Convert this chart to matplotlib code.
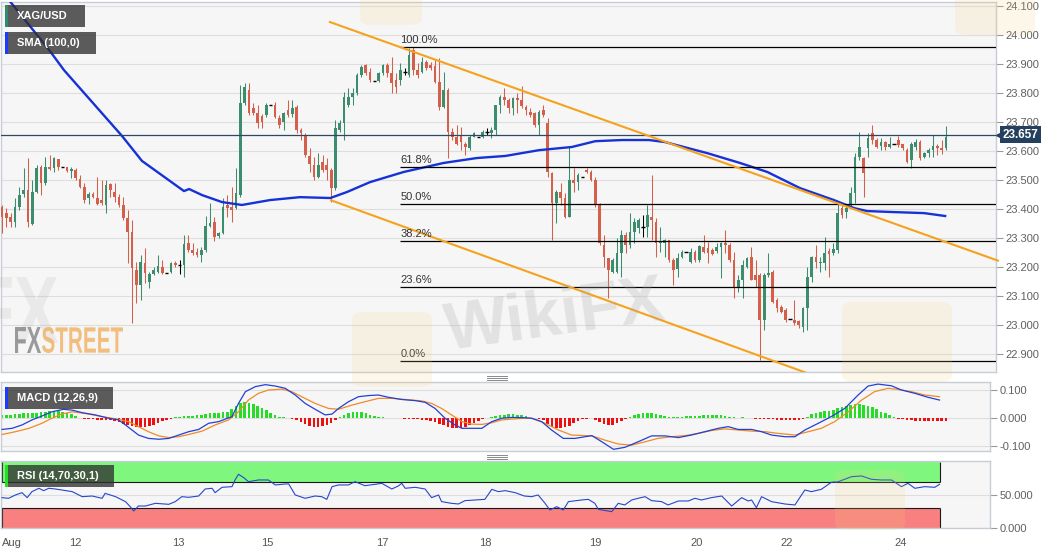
import numpy as np
import matplotlib
matplotlib.use('Agg')
import matplotlib.pyplot as plt
from matplotlib.patches import Rectangle, PathPatch, FancyBboxPatch
from matplotlib.lines import Line2D
from matplotlib.textpath import TextPath
from matplotlib.font_manager import FontProperties
from matplotlib.transforms import Affine2D, blended_transform_factory

plt.rcParams['font.family'] = ['Liberation Sans', 'DejaVu Sans']

# ---------------- data (hourly XAG/USD candles) ----------------
opens = [
    23.408, 23.385, 23.374, 23.356, 23.408, 23.452, 23.466, 23.348, 23.460, 23.544,
    23.489, 23.546, 23.540, 23.571, 23.546, 23.544, 23.532, 23.534, 23.502, 23.477,
    23.437, 23.452, 23.437, 23.431, 23.414, 23.486, 23.460, 23.443, 23.414, 23.368,
    23.322, 23.190, 23.138, 23.215, 23.149, 23.176, 23.184, 23.201, 23.178, 23.184,
    23.215, 23.207, 23.207, 23.284, 23.259, 23.253, 23.241, 23.259, 23.341, 23.356,
    23.308, 23.316, 23.414, 23.408, 23.402, 23.448, 23.764, 23.810, 23.747, 23.730,
    23.721, 23.724, 23.759, 23.759, 23.713, 23.701, 23.741, 23.728, 23.753, 23.672,
    23.655, 23.583, 23.552, 23.512, 23.563, 23.552, 23.535, 23.471, 23.672, 23.695,
    23.759, 23.787, 23.799, 23.862, 23.897, 23.874, 23.841, 23.843, 23.868, 23.897,
    23.868, 23.845, 23.845, 23.874, 23.862, 23.948, 23.879, 23.874, 23.908, 23.897,
    23.893, 23.839, 23.753, 23.810, 23.667, 23.649, 23.655, 23.626, 23.609, 23.649,
    23.649, 23.649, 23.667, 23.661, 23.672, 23.759, 23.787, 23.776, 23.747, 23.782,
    23.776, 23.753, 23.736, 23.730, 23.690, 23.741, 23.695, 23.523, 23.420, 23.460,
    23.437, 23.374, 23.500, 23.494, 23.511, 23.534, 23.529, 23.500, 23.414, 23.276,
    23.230, 23.184, 23.184, 23.247, 23.310, 23.276, 23.322, 23.333, 23.339, 23.339,
    23.374, 23.356, 23.282, 23.282, 23.293, 23.224, 23.192, 23.233, 23.253, 23.218,
    23.253, 23.224, 23.270, 23.264, 23.259, 23.256, 23.270, 23.284, 23.276, 23.224,
    23.132, 23.155, 23.201, 23.236, 23.172, 23.172, 23.017, 23.172, 23.184, 23.086,
    23.063, 23.052, 23.020, 23.017, 23.014, 22.994, 23.057, 23.167, 23.233, 23.213,
    23.215, 23.256, 23.247, 23.259, 23.402, 23.391, 23.414, 23.454, 23.580, 23.575,
    23.609, 23.661, 23.638, 23.617, 23.632, 23.615, 23.624, 23.638, 23.624, 23.603,
    23.569, 23.615, 23.632, 23.580, 23.592, 23.603, 23.617, 23.612, 23.609]
highs = [
    23.414, 23.402, 23.385, 23.437, 23.477, 23.540, 23.575, 23.500, 23.552, 23.552,
    23.578, 23.586, 23.580, 23.571, 23.546, 23.546, 23.546, 23.540, 23.517, 23.489,
    23.460, 23.460, 23.509, 23.500, 23.500, 23.491, 23.489, 23.452, 23.443, 23.397,
    23.362, 23.218, 23.241, 23.264, 23.184, 23.201, 23.241, 23.224, 23.178, 23.218,
    23.222, 23.224, 23.310, 23.310, 23.282, 23.264, 23.270, 23.376, 23.420, 23.374,
    23.322, 23.437, 23.448, 23.477, 23.540, 23.828, 23.836, 23.833, 23.764, 23.759,
    23.728, 23.764, 23.759, 23.770, 23.724, 23.736, 23.776, 23.776, 23.759, 23.678,
    23.661, 23.609, 23.580, 23.592, 23.586, 23.575, 23.540, 23.707, 23.707, 23.805,
    23.816, 23.816, 23.868, 23.897, 23.900, 23.885, 23.841, 23.874, 23.900, 23.902,
    23.925, 23.868, 23.902, 23.885, 23.954, 23.960, 23.902, 23.925, 23.914, 23.908,
    23.914, 23.920, 23.874, 23.816, 23.678, 23.690, 23.684, 23.632, 23.655, 23.667,
    23.649, 23.672, 23.678, 23.684, 23.759, 23.793, 23.816, 23.782, 23.787, 23.799,
    23.824, 23.759, 23.747, 23.736, 23.741, 23.759, 23.713, 23.529, 23.466, 23.489,
    23.454, 23.615, 23.540, 23.523, 23.511, 23.540, 23.534, 23.511, 23.420, 23.310,
    23.230, 23.230, 23.299, 23.328, 23.322, 23.385, 23.368, 23.368, 23.379, 23.414,
    23.517, 23.368, 23.339, 23.295, 23.293, 23.230, 23.247, 23.259, 23.253, 23.264,
    23.259, 23.276, 23.310, 23.287, 23.264, 23.282, 23.287, 23.327, 23.282, 23.253,
    23.172, 23.224, 23.236, 23.270, 23.224, 23.178, 23.178, 23.247, 23.190, 23.092,
    23.069, 23.057, 23.020, 23.086, 23.017, 23.063, 23.201, 23.238, 23.276, 23.236,
    23.305, 23.264, 23.282, 23.420, 23.414, 23.414, 23.477, 23.592, 23.667, 23.580,
    23.661, 23.690, 23.644, 23.644, 23.636, 23.649, 23.624, 23.652, 23.626, 23.609,
    23.632, 23.640, 23.638, 23.598, 23.609, 23.655, 23.626, 23.638, 23.686]
lows = [
    23.316, 23.339, 23.339, 23.339, 23.397, 23.443, 23.339, 23.345, 23.454, 23.448,
    23.483, 23.534, 23.529, 23.534, 23.546, 23.529, 23.506, 23.500, 23.471, 23.420,
    23.417, 23.437, 23.414, 23.414, 23.385, 23.443, 23.425, 23.408, 23.362, 23.213,
    23.006, 23.075, 23.086, 23.144, 23.126, 23.172, 23.178, 23.176, 23.178, 23.178,
    23.201, 23.176, 23.167, 23.253, 23.241, 23.236, 23.218, 23.253, 23.339, 23.291,
    23.299, 23.313, 23.374, 23.356, 23.399, 23.443, 23.759, 23.724, 23.724, 23.678,
    23.678, 23.718, 23.759, 23.713, 23.678, 23.672, 23.718, 23.718, 23.663, 23.638,
    23.580, 23.529, 23.500, 23.506, 23.529, 23.500, 23.425, 23.466, 23.667, 23.638,
    23.753, 23.759, 23.793, 23.856, 23.862, 23.839, 23.841, 23.839, 23.862, 23.856,
    23.799, 23.799, 23.828, 23.862, 23.856, 23.862, 23.851, 23.868, 23.879, 23.879,
    23.833, 23.741, 23.747, 23.575, 23.638, 23.621, 23.603, 23.586, 23.603, 23.647,
    23.649, 23.644, 23.655, 23.644, 23.655, 23.730, 23.759, 23.730, 23.724, 23.730,
    23.747, 23.724, 23.718, 23.684, 23.655, 23.718, 23.511, 23.293, 23.351, 23.414,
    23.368, 23.371, 23.460, 23.466, 23.511, 23.523, 23.498, 23.408, 23.276, 23.201,
    23.092, 23.178, 23.178, 23.167, 23.247, 23.264, 23.282, 23.316, 23.305, 23.305,
    23.293, 23.236, 23.253, 23.236, 23.218, 23.138, 23.167, 23.230, 23.253, 23.213,
    23.218, 23.218, 23.247, 23.213, 23.241, 23.247, 23.161, 23.247, 23.218, 23.092,
    23.115, 23.092, 23.195, 23.155, 23.132, 22.879, 22.983, 23.167, 23.075, 23.046,
    23.040, 23.012, 23.020, 23.000, 22.989, 22.977, 22.983, 23.149, 23.195, 23.184,
    23.190, 23.167, 23.241, 23.247, 23.368, 23.368, 23.408, 23.420, 23.569, 23.443,
    23.580, 23.626, 23.609, 23.603, 23.603, 23.609, 23.624, 23.615, 23.603, 23.560,
    23.540, 23.603, 23.569, 23.575, 23.580, 23.580, 23.586, 23.590, 23.603]
closes = [
    23.374, 23.368, 23.356, 23.408, 23.448, 23.466, 23.356, 23.460, 23.540, 23.489,
    23.544, 23.537, 23.575, 23.546, 23.546, 23.532, 23.537, 23.506, 23.477, 23.431,
    23.452, 23.440, 23.417, 23.420, 23.483, 23.466, 23.443, 23.414, 23.368, 23.322,
    23.195, 23.138, 23.218, 23.178, 23.176, 23.190, 23.203, 23.178, 23.178, 23.215,
    23.207, 23.207, 23.279, 23.259, 23.247, 23.241, 23.259, 23.341, 23.353, 23.305,
    23.316, 23.408, 23.402, 23.397, 23.454, 23.764, 23.822, 23.730, 23.730, 23.698,
    23.701, 23.759, 23.759, 23.718, 23.690, 23.730, 23.724, 23.747, 23.672, 23.661,
    23.586, 23.557, 23.512, 23.552, 23.535, 23.535, 23.471, 23.678, 23.695, 23.787,
    23.787, 23.799, 23.862, 23.891, 23.868, 23.845, 23.841, 23.870, 23.897, 23.868,
    23.833, 23.822, 23.879, 23.874, 23.931, 23.879, 23.862, 23.908, 23.885, 23.885,
    23.839, 23.753, 23.810, 23.667, 23.649, 23.626, 23.632, 23.615, 23.649, 23.661,
    23.649, 23.667, 23.667, 23.672, 23.759, 23.787, 23.776, 23.747, 23.782, 23.776,
    23.755, 23.741, 23.724, 23.690, 23.736, 23.724, 23.529, 23.420, 23.460, 23.437,
    23.374, 23.500, 23.489, 23.517, 23.511, 23.529, 23.500, 23.414, 23.282, 23.236,
    23.190, 23.224, 23.247, 23.310, 23.276, 23.322, 23.356, 23.362, 23.339, 23.379,
    23.362, 23.282, 23.287, 23.293, 23.224, 23.190, 23.230, 23.253, 23.253, 23.253,
    23.224, 23.272, 23.253, 23.247, 23.245, 23.270, 23.282, 23.276, 23.224, 23.132,
    23.155, 23.207, 23.230, 23.157, 23.155, 23.017, 23.172, 23.178, 23.080, 23.057,
    23.046, 23.017, 23.020, 23.006, 23.000, 23.057, 23.167, 23.233, 23.218, 23.218,
    23.247, 23.245, 23.261, 23.385, 23.379, 23.402, 23.454, 23.580, 23.615, 23.523,
    23.644, 23.638, 23.615, 23.632, 23.615, 23.624, 23.624, 23.621, 23.609, 23.563,
    23.626, 23.632, 23.575, 23.594, 23.603, 23.617, 23.609, 23.603, 23.649]
last_price = 23.657

# SMA(100): candle index -> value
sma_idx = [0, 10.9, 14.3, 27.7, 32.3, 42, 43.2, 46.2, 50.8, 55.4, 61.9, 68.8, 75.8, 79.7, 85,
           92.8, 102, 109.7, 116.2, 124, 131.6, 137, 143.2, 149.4, 153.1, 162.8, 170.4, 176.7,
           184.3, 192.1, 196.8, 199.8, 205, 212.9, 217.8]
sma_val = [24.150, 23.948, 23.879, 23.652, 23.566, 23.462, 23.469, 23.448, 23.424, 23.414,
           23.431, 23.441, 23.438, 23.459, 23.493, 23.528, 23.559, 23.576, 23.583, 23.603,
           23.614, 23.634, 23.638, 23.638, 23.631, 23.593, 23.559, 23.528, 23.472, 23.431,
           23.403, 23.393, 23.390, 23.386, 23.376]

# descending channel (index, price)
upper_line = ([75.7, 230.0], [24.045, 23.222])
lower_line = ([76.0, 190.0], [23.430, 22.812])

# Fibonacci retracement
fib_high, fib_low = 23.958, 22.876
fib_ratios = [0.0, 0.236, 0.382, 0.5, 0.618, 1.0]
fib_start = 92

# MACD (12,26,9)
macd_hist = [
    0.010, 0.010, 0.011, 0.012, 0.014, 0.015, 0.015, 0.016, 0.017, 0.020,
    0.022, 0.023, 0.024, 0.024, 0.022, 0.018, 0.012, 0.006,
    -0.002, -0.004, -0.005, -0.006, -0.007, -0.008, -0.009, -0.010, -0.012, -0.016,
    -0.022, -0.027, -0.030, -0.032, -0.033, -0.032, -0.030, -0.026, -0.020, -0.012,
    -0.007, -0.003,
    0.002, 0.004, 0.006, 0.007, 0.007, 0.008, 0.010, 0.013, 0.016, 0.016,
    0.018, 0.020, 0.022, 0.030, 0.042, 0.052, 0.057, 0.054, 0.048, 0.040,
    0.033, 0.026, 0.018, 0.010, 0.004, 0.001,
    -0.001, -0.004, -0.008, -0.015, -0.022, -0.028, -0.032, -0.033, -0.031, -0.026,
    -0.018, -0.008,
    0.004, 0.010, 0.015, 0.019, 0.021, 0.020, 0.016, 0.011, 0.006, 0.003, 0.001,
    -0.001, -0.002, -0.002, -0.001, -0.003, -0.004, -0.005, -0.006, -0.007, -0.008,
    -0.011, -0.015, -0.021, -0.027, -0.033, -0.037, -0.038, -0.036, -0.032, -0.026,
    -0.020, -0.013, -0.006, -0.002,
    0.003, 0.007, 0.010, 0.011, 0.012, 0.012, 0.011, 0.009, 0.006,
    -0.001, -0.002, -0.004, -0.010, -0.022, -0.032, -0.036, -0.038, -0.035, -0.028,
    -0.020, -0.012, -0.006, -0.003, -0.002,
    -0.008, -0.016, -0.022, -0.026, -0.025, -0.020, -0.012, -0.004,
    0.004, 0.009, 0.013, 0.016, 0.018, 0.017, 0.013, 0.009, 0.006, 0.003,
    0.002, 0.003, 0.004, 0.005, 0.006, 0.006, 0.007, 0.008, 0.009, 0.010,
    0.010, 0.009, 0.006, 0.003,
    0.001, -0.001, 0.001, -0.001,
    -0.002, -0.006, -0.004, -0.003, -0.005, -0.006, -0.007, -0.008, -0.009, -0.009,
    -0.009, -0.008, -0.004,
    0.004, 0.012, 0.017, 0.021, 0.023, 0.025, 0.028, 0.033, 0.038, 0.041,
    0.045, 0.048, 0.049, 0.047, 0.043, 0.037, 0.030, 0.022, 0.015, 0.009, 0.004,
    -0.003, -0.006, -0.008, -0.010, -0.011, -0.012, -0.012, -0.012, -0.012, -0.012,
    -0.012, -0.012]
macd_idx = [0, 2.3, 4.6, 6.9, 9.2, 11.5, 14.2, 16.2, 18.5, 21.5, 24.6, 26.9, 28.5, 30, 31.5,
            33.8, 36.2, 38.5, 40.8, 43.1, 45.4, 47.7, 50, 53.1, 54.6, 56.2, 58.5, 60.8, 63.1,
            65.4, 67.7, 70, 72.3, 74.6, 76.2, 77.7, 80, 82.3, 84.6, 86.9, 89.2, 92.3, 95.4,
            97.7, 100, 102.3, 104.6, 106.2, 108.5, 110.8, 113.1, 115.4, 117.7, 120.6, 122.3,
            124.6, 126.9, 129.6, 132.3, 136.2, 138.5, 141.2, 143.8, 146.9, 150, 153.1, 156.2,
            159.2, 162.3, 165.4, 167.7, 170, 173.1, 175.4, 177.7, 180.8, 183.1, 185.4, 188.5,
            191.5, 194.6, 197.7, 200, 202.3, 205.4, 207.7, 210.8, 213.8, 216.5]
macd_val = [-0.042, -0.038, -0.026, -0.008, 0.006, 0.021, 0.030, 0.027, 0.018, 0.010,
            -0.002, -0.008, -0.026, -0.044, -0.062, -0.074, -0.077, -0.074, -0.062, -0.050,
            -0.042, -0.020, -0.014, 0.004, 0.051, 0.093, 0.111, 0.118, 0.113, 0.105,
            0.081, 0.051, 0.030, 0.010, 0.013, 0.033, 0.057, 0.075, 0.079, 0.081,
            0.073, 0.065, 0.061, 0.055, 0.033, -0.002, -0.026, -0.038, -0.038, -0.038,
            -0.014, -0.002, 0.001, 0.000, -0.002, -0.014, -0.044, -0.074, -0.074, -0.064,
            -0.086, -0.113, -0.106, -0.086, -0.065, -0.065, -0.071, -0.062, -0.050, -0.038,
            -0.032, -0.042, -0.042, -0.050, -0.062, -0.068, -0.068, -0.044, -0.020, 0.004,
            0.033, 0.081, 0.113, 0.120, 0.114, 0.099, 0.087, 0.073, 0.063]
signal_idx = [0, 3.1, 6.2, 9.2, 11.5, 13.8, 16.2, 19.2, 23.1, 26.9, 29.2, 31.5, 33.8, 36.2,
              38.5, 40.8, 43.1, 46.2, 49.2, 52.3, 54.6, 56.9, 59.2, 61.5, 64.6, 66.9, 69.2,
              72.3, 75.4, 77.7, 80.8, 83.8, 86.9, 90, 93.1, 96.9, 99.2, 101.5, 103.8, 106.2,
              108.5, 110.8, 113.1, 115.4, 117.7, 120.6, 122.3, 125.4, 128.5, 131.5, 136.2,
              139.2, 142.3, 145.4, 148.5, 151.5, 154.6, 157.7, 160.8, 163.8, 166.9, 170,
              173.1, 176.2, 179.2, 183.1, 186.2, 189.2, 192.3, 195.4, 198.5, 201.5, 204.6,
              206.9, 210, 213.1, 216.5]
signal_val = [-0.060, -0.050, -0.038, -0.020, -0.002, 0.013, 0.021, 0.015, 0.004, -0.006,
              -0.014, -0.032, -0.050, -0.065, -0.071, -0.068, -0.060, -0.048, -0.026, -0.008,
              0.021, 0.063, 0.087, 0.099, 0.102, 0.093, 0.075, 0.051, 0.033, 0.030,
              0.045, 0.057, 0.069, 0.069, 0.065, 0.060, 0.051, 0.033, 0.010, -0.014,
              -0.023, -0.024, -0.018, -0.008, -0.005, -0.002, -0.002, -0.020, -0.044, -0.062,
              -0.065, -0.080, -0.094, -0.098, -0.086, -0.074, -0.068, -0.064, -0.056, -0.046,
              -0.040, -0.044, -0.048, -0.050, -0.056, -0.062, -0.050, -0.038, -0.014, 0.021,
              0.063, 0.093, 0.105, 0.101, 0.093, 0.081, 0.075]

# RSI (14,70,30,1)
rsi_idx = [0, 1.5, 3.1, 4.6, 5.8, 6.9, 8.5, 9.6, 10.8, 12.3, 13.8, 16.2, 18.5, 20.8, 23.1,
           23.8, 26.2, 28.5, 29.6, 30.4, 31.5, 33.1, 35.4, 38.5, 40, 41.5, 43.1, 45.4, 46.9,
           48.5, 49.2, 50.8, 53.1, 53.8, 54.6, 55.8, 56.9, 59.2, 61.5, 63.1, 65.4, 66.2, 67.7,
           70, 72.3, 73.8, 75, 76.2, 77.7, 80, 81.5, 83.8, 86.2, 87.7, 90, 91.5, 92.3, 93.1,
           95.4, 97.7, 99.2, 100.8, 101.5, 103.8, 105.4, 106.9, 109.2, 111.5, 113.1, 114.6,
           116.2, 118.5, 120.6, 122.3, 123.8, 125.4, 126.5, 128.1, 129.6, 130.8, 133.8, 135.4,
           136.9, 137.7, 140.8, 142.3, 143.8, 145.4, 146.9, 148.5, 150, 152.3, 153.8, 156.2,
           158.5, 160, 161.5, 163.8, 166.2, 168.5, 170.8, 172.3, 173.1, 174.2, 175.4, 177.7,
           180.8, 183.1, 185.4, 186.9, 189.2, 191.5, 193.1, 196.2, 198.5, 200.8, 203.1, 205.4,
           207.7, 209.2, 210.8, 213.1, 215.4, 216.5]
rsi_val = [46.4, 45.4, 50.5, 54.0, 46.4, 55.6, 60.7, 57.1, 60.7, 59.6, 58.1, 55.6, 47.9, 48.9,
           45.4, 53.0, 47.9, 40.3, 32.6, 26.0, 33.6, 33.6, 37.7, 36.2, 40.3, 47.9, 46.9, 48.9,
           59.6, 60.7, 54.0, 62.2, 63.2, 73.4, 82.1, 77.0, 70.8, 73.4, 73.4, 65.8, 67.3, 67.3,
           50.5, 45.4, 48.9, 47.9, 43.8, 63.2, 65.8, 65.8, 70.8, 64.7, 66.8, 68.3, 59.6, 64.2,
           68.3, 60.7, 62.2, 59.6, 46.4, 50.5, 40.3, 37.7, 36.7, 41.8, 42.8, 43.8, 59.1, 55.6,
           57.1, 54.0, 48.9, 47.9, 50.5, 37.7, 27.5, 32.6, 27.5, 40.3, 42.8, 43.8, 37.7, 28.5,
           25.0, 37.7, 35.2, 42.8, 45.4, 47.9, 41.8, 40.3, 35.2, 41.3, 41.3, 45.4, 42.8, 46.4,
           48.9, 33.6, 46.4, 41.3, 42.8, 31.1, 47.9, 40.3, 36.7, 35.2, 58.1, 55.6, 59.1, 69.8,
           70.8, 78.5, 79.5, 74.4, 73.4, 73.4, 63.2, 68.3, 60.7, 63.2, 62.2, 66.8]
rsi_upper, rsi_lower = 70, 30

date_labels = ['Aug', '12', '13', '15', '17', '18', '19', '20', '22', '24']
date_pos = [2.3, 16.9, 40.6, 61.2, 87.8, 111.5, 137.0, 160.5, 181.3, 207.6]

# ---------------- layout ----------------
W, H = 1060, 555
PX = 4.33  # pixels per candle
GREEN, RED = '#3b8d6d', '#d4604c'

fig = plt.figure(figsize=(W / 100, H / 100), dpi=100, facecolor='white')


def px_axes(left, top, width, height):
    return fig.add_axes([left / W, 1 - (top + height) / H, width / W, height / H])


def style(a, width_px):
    a.set_facecolor('#f6f6f6')
    a.set_xlim(-0.25, -0.25 + width_px / PX)
    for s in a.spines.values():
        s.set_color('#c8ccd4')
        s.set_linewidth(1)
    a.yaxis.tick_right()
    a.tick_params(axis='y', direction='out', length=5, width=0.8, color='#9a9a9a',
                  labelcolor='#606060', labelsize=8, pad=2)
    a.tick_params(axis='x', length=0, labelbottom=False)
    a.grid(axis='y', color='#dedede', lw=0.8)
    a.set_axisbelow(True)


ax = px_axes(1, 2, 995, 370)
ax_macd = px_axes(1, 382, 989, 69)
ax_rsi = px_axes(1, 461, 989, 67)
style(ax, 995)
style(ax_macd, 989)
style(ax_rsi, 989)

# ---- price panel ----
ax.set_ylim(22.838, 24.114)
ticks = [round(22.9 + 0.1 * k, 1) for k in range(13)]
ax.set_yticks(ticks)
ax.set_yticklabels([f'{t:.3f}' for t in ticks])

o, h, l, c = (np.array(v) for v in (opens, highs, lows, closes))
x = np.arange(len(c))
doji = np.abs(c - o) < 0.001
col = np.where(c >= o, GREEN, RED)
nd = ~doji
ax.vlines(x[nd], l[nd], h[nd], colors=col[nd], lw=0.75, zorder=3)
ax.bar(x[nd], np.abs(c - o)[nd], bottom=np.minimum(o, c)[nd], width=0.62,
       color=col[nd], lw=0, zorder=4)
ax.vlines(x[doji], l[doji], h[doji], colors='black', lw=0.75, zorder=3)
ax.hlines(c[doji], x[doji] - 0.4, x[doji] + 0.4, colors='black', lw=1, zorder=4)

ax.plot(sma_idx, sma_val, color='#1632d6', lw=1.7, zorder=5)
ax.plot(*upper_line, color='#f5a21e', lw=1.5, zorder=6, clip_on=False)
ax.plot(*lower_line, color='#f5a21e', lw=1.5, zorder=6)

xr = ax.get_xlim()[1]
for r in fib_ratios:
    lvl = fib_low + r * (fib_high - fib_low)
    ax.hlines(lvl, fib_start, xr, colors='black', lw=0.9, zorder=5)
    ax.annotate(f'{r * 100:.1f}%', (fib_start, lvl), xytext=(0, 1.5), textcoords='offset points',
                fontsize=8, color='#333333', va='bottom', ha='left', zorder=6)

ax.axhline(last_price, color='#2c4864', lw=0.9, zorder=5)
tr = blended_transform_factory(ax.transAxes, ax.transData)
ax.text(1.0 + 7 / 995, last_price, f'{last_price:.3f}', transform=tr, ha='left', va='center',
        color='white', fontsize=8.5, fontweight='bold', clip_on=False, zorder=10,
        bbox=dict(boxstyle='square,pad=0.22', fc='#24405e', ec='none'))
ax.plot([1.0 + 3 / 995], [last_price], marker='<', ms=5, color='#24405e', transform=tr,
        clip_on=False, zorder=10)

# ---- MACD panel ----
ax_macd.set_ylim(-0.119, 0.1275)
ax_macd.set_yticks([-0.1, 0.0, 0.1])
ax_macd.set_yticklabels(['-0.100', '0.000', '0.100'])
hist = np.array(macd_hist)
hx = np.arange(len(hist))
ax_macd.bar(hx, hist, width=0.6, color=np.where(hist >= 0, '#27dc27', '#ee1010'), lw=0, zorder=2)
ax_macd.plot(signal_idx, signal_val, color='#f28a26', lw=0.9, zorder=3)
ax_macd.plot(macd_idx, macd_val, color='#2340d6', lw=0.9, zorder=4)

# ---- RSI panel ----
ax_rsi.set_ylim(0, 102.4)
ax_rsi.set_yticks([0, 50])
ax_rsi.set_yticklabels(['0.000', '50.000'])
band_end = rsi_idx[-1] + 0.1
ax_rsi.add_patch(Rectangle((-0.25, rsi_upper), band_end + 0.25, 100.8 - rsi_upper,
                           fc='#7ff77f', ec='none', zorder=1))
ax_rsi.add_patch(Rectangle((-0.25, 0), band_end + 0.25, rsi_lower,
                           fc='#f98080', ec='none', zorder=1))
ax_rsi.hlines([rsi_upper, rsi_lower], -0.25, band_end, colors='#1a1a1a', lw=0.8, zorder=2)
ax_rsi.vlines([band_end, band_end, 0], [0, rsi_upper, 0], [rsi_lower, 100.8, rsi_lower],
              colors='#1a1a1a', lw=0.8, zorder=2)
ax_rsi.vlines([0], [rsi_upper], [100.8], colors='#1a1a1a', lw=0.8, zorder=2)
ax_rsi.plot(rsi_idx, rsi_val, color='#2746cc', lw=0.8, zorder=3)
ax_rsi.set_xticks(date_pos)
ax_rsi.set_xticklabels(date_labels)
ax_rsi.tick_params(axis='x', labelbottom=True, length=0, pad=7, labelsize=8, labelcolor='#555555')

# ---- overlays: indicator tags, watermarks, separators ----
def tag(x0, y0, w, h, text, stripe):
    fig.add_artist(Rectangle((x0 / W, 1 - (y0 + h) / H), w / W, h / H, transform=fig.transFigure,
                             fc='#303030', alpha=0.78, ec='none', zorder=30))
    fig.add_artist(Rectangle((x0 / W, 1 - (y0 + h) / H), 2.5 / W, h / H, transform=fig.transFigure,
                             fc=stripe, ec='none', zorder=31))
    fig.text((x0 + 12) / W, 1 - (y0 + h / 2) / H, text, color='white', fontsize=8,
             fontweight='bold', ha='left', va='center', zorder=32)


tag(5, 5, 80, 22, 'XAG/USD', '#2e8b6e')
tag(5, 32, 91, 22, 'SMA (100,0)', '#1a3cff')
tag(5, 387, 108, 22, 'MACD (12,26,9)', '#1a3cff')
tag(5, 465, 109, 22, 'RSI (14,70,30,1)', '#22e022')


def stretched(s, x0, y0, w, h, color, alpha, z=25):
    tp = TextPath((0, 0), s, size=100, prop=FontProperties(family='Liberation Sans', weight='bold'))
    bb = tp.get_extents()
    t = (Affine2D().translate(-bb.x0, -bb.y0).scale(w / bb.width / W, h / bb.height / H)
         .translate(x0 / W, 1 - (y0 + h) / H) + fig.transFigure)
    fig.add_artist(PathPatch(tp, transform=t, fc=color, ec='none', alpha=alpha, zorder=z))


stretched('FX', -22, 277, 80, 66, '#b0b0b0', 0.18)
stretched('FX', 15, 327, 26, 26, '#8a8a8a', 0.85)
stretched('STREET', 42, 327, 81, 26, '#f0b060', 0.8)

for bx, by, bw, bh in [(352, 312, 80, 75), (360, -30, 62, 55), (955, -25, 80, 60),
                       (842, 302, 110, 80), (835, 470, 70, 60)]:
    fig.add_artist(FancyBboxPatch((bx / W, 1 - (by + bh) / H), bw / W, bh / H,
                                  boxstyle='round,pad=0,rounding_size=0.012',
                                  transform=fig.transFigure, fc='#f2d17c', ec='none',
                                  alpha=0.16, zorder=24))
fig.text(555 / W, 1 - 318 / H, 'WikiFX', fontsize=48, fontweight='bold', color='#a8a8a8',
         alpha=0.26, rotation=8, ha='center', va='center', zorder=24)

for yy in (376, 378, 380, 455, 457, 459):
    fig.add_artist(Line2D([487 / W, 507 / W], [1 - yy / H] * 2, color='#8a8a8a', lw=0.7,
                          transform=fig.transFigure, zorder=30))

fig.savefig('out.png', dpi=100, facecolor='white')
